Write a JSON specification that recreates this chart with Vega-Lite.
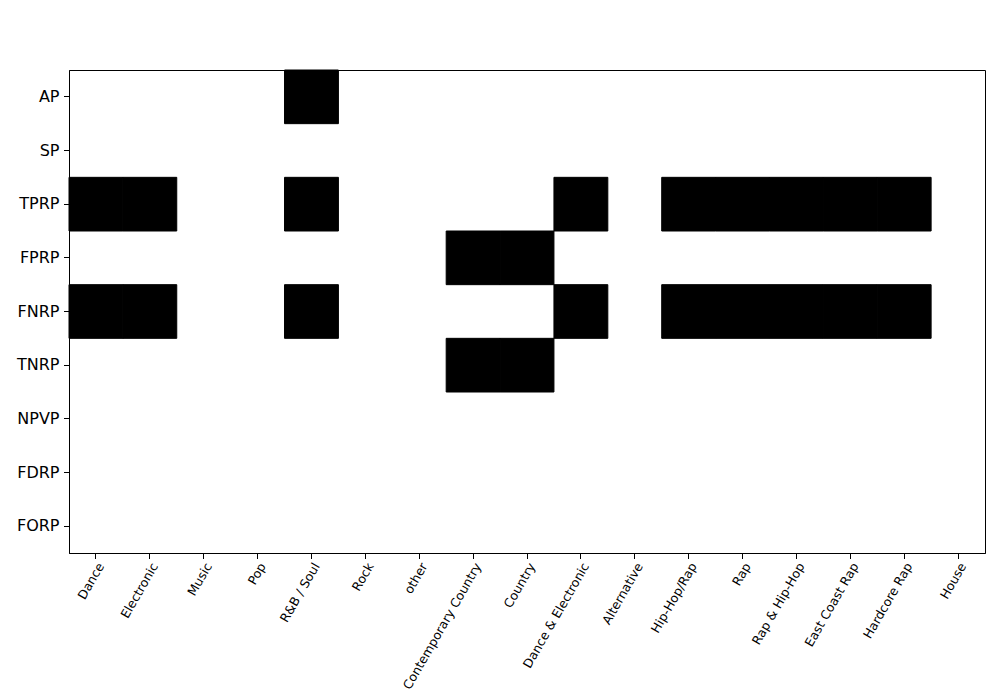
{
  "$schema": "https://vega.github.io/schema/vega-lite/v6.json",
  "autosize": "none",
  "width": 916,
  "height": 483,
  "padding": {"left": 69, "top": 70, "right": 15, "bottom": 147},
  "background": "white",
  "config": {
    "font": "DejaVu Sans",
    "view": {"stroke": "black", "strokeWidth": 1, "fill": "white"},
    "axis": {"domainColor": "black", "tickColor": "black", "labelColor": "black", "tickSize": 5.5, "labelPadding": 4, "grid": false, "title": null, "labelFont": "DejaVu Sans"}
  },
  "data": {"values": [
    {"r":"AP","g":"Dance","v":0},{"r":"AP","g":"Electronic","v":0},{"r":"AP","g":"Music","v":0},{"r":"AP","g":"Pop","v":0},{"r":"AP","g":"R&B / Soul","v":1},{"r":"AP","g":"Rock","v":0},{"r":"AP","g":"other","v":0},{"r":"AP","g":"Contemporary Country","v":0},{"r":"AP","g":"Country","v":0},{"r":"AP","g":"Dance & Electronic","v":0},{"r":"AP","g":"Alternative","v":0},{"r":"AP","g":"Hip-Hop/Rap","v":0},{"r":"AP","g":"Rap","v":0},{"r":"AP","g":"Rap & Hip-Hop","v":0},{"r":"AP","g":"East Coast Rap","v":0},{"r":"AP","g":"Hardcore Rap","v":0},{"r":"AP","g":"House","v":0},
    {"r":"SP","g":"Dance","v":0},{"r":"SP","g":"Electronic","v":0},{"r":"SP","g":"Music","v":0},{"r":"SP","g":"Pop","v":0},{"r":"SP","g":"R&B / Soul","v":0},{"r":"SP","g":"Rock","v":0},{"r":"SP","g":"other","v":0},{"r":"SP","g":"Contemporary Country","v":0},{"r":"SP","g":"Country","v":0},{"r":"SP","g":"Dance & Electronic","v":0},{"r":"SP","g":"Alternative","v":0},{"r":"SP","g":"Hip-Hop/Rap","v":0},{"r":"SP","g":"Rap","v":0},{"r":"SP","g":"Rap & Hip-Hop","v":0},{"r":"SP","g":"East Coast Rap","v":0},{"r":"SP","g":"Hardcore Rap","v":0},{"r":"SP","g":"House","v":0},
    {"r":"TPRP","g":"Dance","v":1},{"r":"TPRP","g":"Electronic","v":1},{"r":"TPRP","g":"Music","v":0},{"r":"TPRP","g":"Pop","v":0},{"r":"TPRP","g":"R&B / Soul","v":1},{"r":"TPRP","g":"Rock","v":0},{"r":"TPRP","g":"other","v":0},{"r":"TPRP","g":"Contemporary Country","v":0},{"r":"TPRP","g":"Country","v":0},{"r":"TPRP","g":"Dance & Electronic","v":1},{"r":"TPRP","g":"Alternative","v":0},{"r":"TPRP","g":"Hip-Hop/Rap","v":1},{"r":"TPRP","g":"Rap","v":1},{"r":"TPRP","g":"Rap & Hip-Hop","v":1},{"r":"TPRP","g":"East Coast Rap","v":1},{"r":"TPRP","g":"Hardcore Rap","v":1},{"r":"TPRP","g":"House","v":0},
    {"r":"FPRP","g":"Dance","v":0},{"r":"FPRP","g":"Electronic","v":0},{"r":"FPRP","g":"Music","v":0},{"r":"FPRP","g":"Pop","v":0},{"r":"FPRP","g":"R&B / Soul","v":0},{"r":"FPRP","g":"Rock","v":0},{"r":"FPRP","g":"other","v":0},{"r":"FPRP","g":"Contemporary Country","v":1},{"r":"FPRP","g":"Country","v":1},{"r":"FPRP","g":"Dance & Electronic","v":0},{"r":"FPRP","g":"Alternative","v":0},{"r":"FPRP","g":"Hip-Hop/Rap","v":0},{"r":"FPRP","g":"Rap","v":0},{"r":"FPRP","g":"Rap & Hip-Hop","v":0},{"r":"FPRP","g":"East Coast Rap","v":0},{"r":"FPRP","g":"Hardcore Rap","v":0},{"r":"FPRP","g":"House","v":0},
    {"r":"FNRP","g":"Dance","v":1},{"r":"FNRP","g":"Electronic","v":1},{"r":"FNRP","g":"Music","v":0},{"r":"FNRP","g":"Pop","v":0},{"r":"FNRP","g":"R&B / Soul","v":1},{"r":"FNRP","g":"Rock","v":0},{"r":"FNRP","g":"other","v":0},{"r":"FNRP","g":"Contemporary Country","v":0},{"r":"FNRP","g":"Country","v":0},{"r":"FNRP","g":"Dance & Electronic","v":1},{"r":"FNRP","g":"Alternative","v":0},{"r":"FNRP","g":"Hip-Hop/Rap","v":1},{"r":"FNRP","g":"Rap","v":1},{"r":"FNRP","g":"Rap & Hip-Hop","v":1},{"r":"FNRP","g":"East Coast Rap","v":1},{"r":"FNRP","g":"Hardcore Rap","v":1},{"r":"FNRP","g":"House","v":0},
    {"r":"TNRP","g":"Dance","v":0},{"r":"TNRP","g":"Electronic","v":0},{"r":"TNRP","g":"Music","v":0},{"r":"TNRP","g":"Pop","v":0},{"r":"TNRP","g":"R&B / Soul","v":0},{"r":"TNRP","g":"Rock","v":0},{"r":"TNRP","g":"other","v":0},{"r":"TNRP","g":"Contemporary Country","v":1},{"r":"TNRP","g":"Country","v":1},{"r":"TNRP","g":"Dance & Electronic","v":0},{"r":"TNRP","g":"Alternative","v":0},{"r":"TNRP","g":"Hip-Hop/Rap","v":0},{"r":"TNRP","g":"Rap","v":0},{"r":"TNRP","g":"Rap & Hip-Hop","v":0},{"r":"TNRP","g":"East Coast Rap","v":0},{"r":"TNRP","g":"Hardcore Rap","v":0},{"r":"TNRP","g":"House","v":0},
    {"r":"NPVP","g":"Dance","v":0},{"r":"NPVP","g":"Electronic","v":0},{"r":"NPVP","g":"Music","v":0},{"r":"NPVP","g":"Pop","v":0},{"r":"NPVP","g":"R&B / Soul","v":0},{"r":"NPVP","g":"Rock","v":0},{"r":"NPVP","g":"other","v":0},{"r":"NPVP","g":"Contemporary Country","v":0},{"r":"NPVP","g":"Country","v":0},{"r":"NPVP","g":"Dance & Electronic","v":0},{"r":"NPVP","g":"Alternative","v":0},{"r":"NPVP","g":"Hip-Hop/Rap","v":0},{"r":"NPVP","g":"Rap","v":0},{"r":"NPVP","g":"Rap & Hip-Hop","v":0},{"r":"NPVP","g":"East Coast Rap","v":0},{"r":"NPVP","g":"Hardcore Rap","v":0},{"r":"NPVP","g":"House","v":0},
    {"r":"FDRP","g":"Dance","v":0},{"r":"FDRP","g":"Electronic","v":0},{"r":"FDRP","g":"Music","v":0},{"r":"FDRP","g":"Pop","v":0},{"r":"FDRP","g":"R&B / Soul","v":0},{"r":"FDRP","g":"Rock","v":0},{"r":"FDRP","g":"other","v":0},{"r":"FDRP","g":"Contemporary Country","v":0},{"r":"FDRP","g":"Country","v":0},{"r":"FDRP","g":"Dance & Electronic","v":0},{"r":"FDRP","g":"Alternative","v":0},{"r":"FDRP","g":"Hip-Hop/Rap","v":0},{"r":"FDRP","g":"Rap","v":0},{"r":"FDRP","g":"Rap & Hip-Hop","v":0},{"r":"FDRP","g":"East Coast Rap","v":0},{"r":"FDRP","g":"Hardcore Rap","v":0},{"r":"FDRP","g":"House","v":0},
    {"r":"FORP","g":"Dance","v":0},{"r":"FORP","g":"Electronic","v":0},{"r":"FORP","g":"Music","v":0},{"r":"FORP","g":"Pop","v":0},{"r":"FORP","g":"R&B / Soul","v":0},{"r":"FORP","g":"Rock","v":0},{"r":"FORP","g":"other","v":0},{"r":"FORP","g":"Contemporary Country","v":0},{"r":"FORP","g":"Country","v":0},{"r":"FORP","g":"Dance & Electronic","v":0},{"r":"FORP","g":"Alternative","v":0},{"r":"FORP","g":"Hip-Hop/Rap","v":0},{"r":"FORP","g":"Rap","v":0},{"r":"FORP","g":"Rap & Hip-Hop","v":0},{"r":"FORP","g":"East Coast Rap","v":0},{"r":"FORP","g":"Hardcore Rap","v":0},{"r":"FORP","g":"House","v":0}
  ]},
  "mark": {"type": "rect", "fill": "black", "stroke": "black", "strokeWidth": 1},
  "encoding": {
    "x": {"field": "g", "type": "nominal", "sort": null,
      "scale": {"paddingInner": 0, "paddingOuter": 0},
      "axis": {"labelAngle": -60, "labelAlign": "right", "labelBaseline": "top", "labelFontSize": 12.5, "labelPadding": 2}},
    "y": {"field": "r", "type": "nominal", "sort": null,
      "scale": {"paddingInner": 0, "paddingOuter": 0},
      "axis": {"labelFontSize": 16, "labelPadding": 4.5}},
    "opacity": {"field": "v", "type": "quantitative", "scale": {"domain": [0, 1], "range": [0, 1]}, "legend": null}
  }
}
